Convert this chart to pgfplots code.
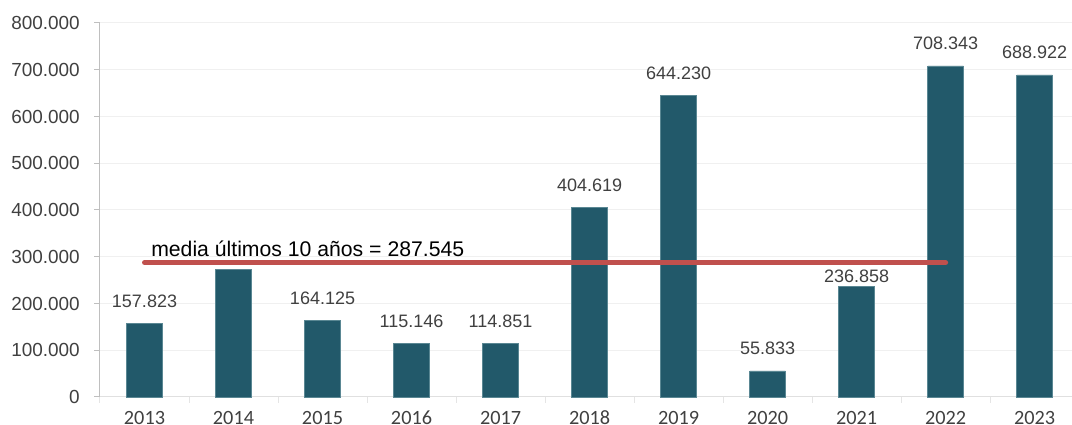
\documentclass[border=0pt]{standalone}
\usepackage{fontspec}
\setmainfont{Liberation Sans}
\newfontfamily\carlito{Carlito}
\usepackage{pgfplots}
\pgfplotsset{compat=1.18}
\definecolor{barc}{HTML}{22596A}
\definecolor{bare}{HTML}{5A8793}
\definecolor{redl}{HTML}{C0504D}
\definecolor{txt}{HTML}{404040}
\definecolor{gridc}{HTML}{F0F0F0}
\begin{document}
\begin{tikzpicture}
\begin{axis}[name=ax, scale only axis, width=729pt, height=280.5pt,
  xmin=-0.5, xmax=10.42, ymin=0, ymax=800000,
  clip=false,
  axis x line*=bottom, axis y line*=left,
  x axis line style={draw=black!12, line width=0.75pt},
  y axis line style={draw=black!25, line width=0.75pt},
  xtick={0,1,2,3,4,5,6,7,8,9,10},
  xticklabels={2013,2014,2015,2016,2017,2018,2019,2020,2021,2022,2023},
  xtick style={draw=none},
  minor xtick={-0.5,0.5,1.5,2.5,3.5,4.5,5.5,6.5,7.5,8.5,9.5},
  minor tick length=4.5pt,
  minor x tick style={draw=black!10, line width=0.75pt},
  ytick={0,100000,200000,300000,400000,500000,600000,700000,800000},
  ytick style={draw=black!25, line width=0.75pt},
  tick align=outside, major tick length=4.5pt,
  scaled y ticks=false,
  /pgf/number format/fixed, /pgf/number format/precision=0,
  /pgf/number format/1000 sep={.}, /pgf/number format/assume math mode=true,
  yticklabel style={font=\fontsize{14.2}{16}\selectfont, text=txt, anchor=east, inner sep=0pt, xshift=-10.5pt},
  xticklabel style={font=\carlito\fontsize{15.2}{18}\selectfont, text=txt, anchor=base, inner sep=0pt, yshift=-16.2pt},
  ymajorgrids, grid style={draw=gridc, line width=0.75pt},
]
\addplot[ybar, bar width=0.4, bar shift=0pt, fill=barc, draw=bare, line width=0.5pt,
  nodes near coords, point meta=explicit symbolic,
  nodes near coords style={font=\fontsize{13.5}{15}\selectfont, text=txt, anchor=base, inner sep=0pt, yshift=12pt}]
  coordinates {
  (0,157823)[157.823]
  (2,164125)[164.125]
  (3,115146)[115.146]
  (4,114851)[114.851]
  (5,404619)[404.619]
  (6,644230)[644.230]
  (7,55833)[55.833]
  (9,708343)[708.343]
  (10,688922)[688.922]
  };
\addplot[ybar, bar width=0.4, bar shift=0pt, fill=barc, draw=bare, line width=0.5pt,
  nodes near coords, point meta=explicit symbolic,
  nodes near coords style={font=\fontsize{13.5}{15}\selectfont, text=txt, anchor=base, inner sep=0pt, yshift=2.8pt}]
  coordinates {(8,236858)[236.858]};
\addplot[ybar, bar width=0.4, bar shift=0pt, fill=barc, draw=bare, line width=0.5pt]
  coordinates {(1,273622)};
\addplot[redl, line width=3.75pt, line cap=round] coordinates {(0,287545) (9,287545)};
\node[anchor=base west, inner sep=0pt, font=\fontsize{15.9}{18}\selectfont, text=black]
  at (axis cs:0.073,299500) {media últimos 10 años = 287.545};
\end{axis}
\pgfresetboundingbox
\path ([xshift=-75pt,yshift=-21pt]ax.south west) rectangle ([yshift=17.25pt]ax.north east);
\end{tikzpicture}
\end{document}
